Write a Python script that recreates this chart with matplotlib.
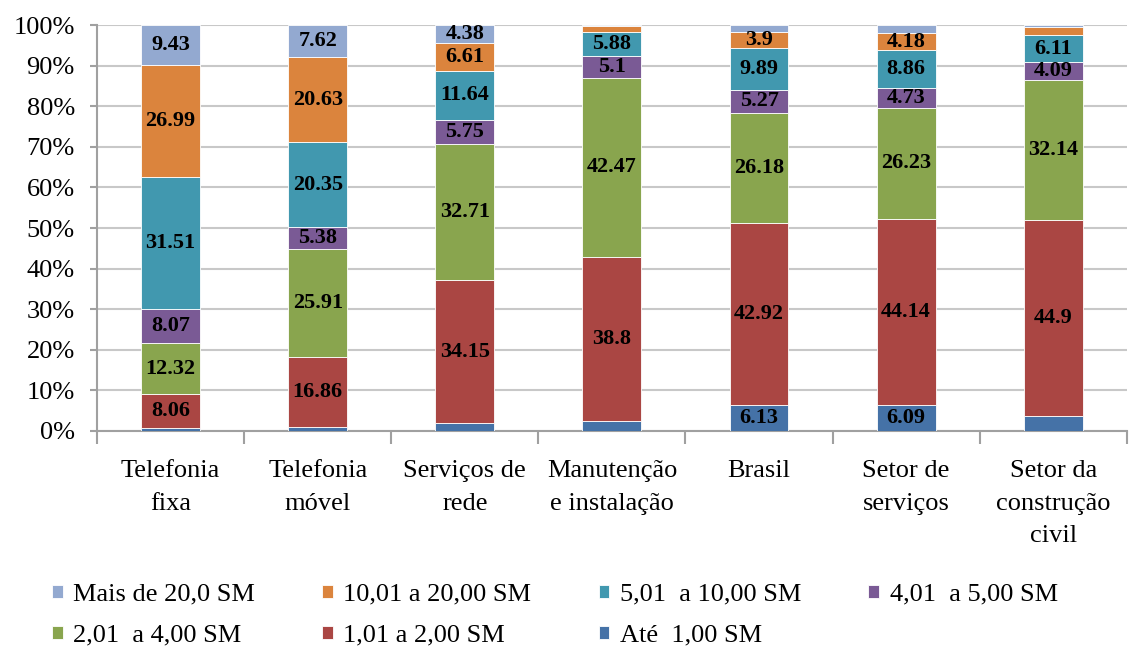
import numpy as np
import matplotlib
matplotlib.use("Agg")
from matplotlib import pyplot as plt

plt.rcParams['font.family'] = ['Liberation Serif', 'DejaVu Serif']

# categories on the x axis
categories = ['Telefonia\nfixa', 'Telefonia\nmóvel', 'Serviços de\nrede',
              'Manutenção\ne instalação', 'Brasil', 'Setor de\nserviços',
              'Setor da\nconstrução\ncivil']

# series, bottom to top (small ones estimated)
ate_1 = [0.66, 1.0, 1.9, 2.4, 6.13, 6.09, 3.4]
de_1_a_2 = [8.06, 16.86, 34.15, 38.8, 42.92, 44.14, 44.9]
de_2_a_4 = [12.32, 25.91, 32.71, 42.47, 26.18, 26.23, 32.14]
de_4_a_5 = [8.07, 5.38, 5.75, 5.1, 5.27, 4.73, 4.09]
de_5_a_10 = [31.51, 20.35, 11.64, 5.88, 9.89, 8.86, 6.11]
de_10_a_20 = [26.99, 20.63, 6.61, 1.2, 3.9, 4.18, 1.8]
mais_20 = [9.43, 7.62, 4.38, 0.3, 1.6, 1.8, 0.5]

# which segments carry a value label
show_ate_1 = [False, False, False, False, True, True, False]
show_de_10_a_20 = [True, True, True, False, True, True, False]
show_mais_20 = [True, True, True, False, False, False, False]

series_names = ['Até  1,00 SM', '1,01 a 2,00 SM', '2,01  a 4,00 SM', '4,01  a 5,00 SM',
                '5,01  a 10,00 SM', '10,01 a 20,00 SM', 'Mais de 20,0 SM']
series = [ate_1, de_1_a_2, de_2_a_4, de_4_a_5, de_5_a_10, de_10_a_20, mais_20]
all_shown = [True] * 7
shown = [show_ate_1, all_shown, all_shown, all_shown, all_shown, show_de_10_a_20, show_mais_20]
colors = ['#4572A7', '#AA4643', '#89A54E', '#7A5A95', '#4198AF', '#DB843D', '#93A9D0']

data = np.array(series)
pct = data / data.sum(axis=0) * 100  # 100% stacked

fig = plt.figure(figsize=(11.29, 6.46), dpi=100)
ax = fig.add_axes([0.086, 0.333, 0.912, 0.628])

x = np.arange(len(categories))
bottom = np.zeros(len(categories))
handles = []
for i, name in enumerate(series_names):
    bars = ax.bar(x, pct[i], 0.40, bottom=bottom, color=colors[i],
                  edgecolor='white', linewidth=0.6, label=name, zorder=3)
    handles.append(bars)
    for j in range(len(categories)):
        if shown[i][j]:
            ax.text(x[j], bottom[j] + pct[i][j] / 2, f'{series[i][j]:g}',
                    ha='center', va='center', fontsize=16, fontweight='bold',
                    color='black', zorder=4)
    bottom += pct[i]

ax.set_xlim(-0.5, len(categories) - 0.5)
ax.set_ylim(0, 100)
ax.set_yticks(np.arange(0, 101, 10))
ax.set_yticklabels([f'{v}%' for v in range(0, 101, 10)], fontsize=19)
ax.yaxis.grid(True, color='#C8C8C8', linewidth=1.5, zorder=0)

ax.set_xticks(x)
ax.set_xticklabels(categories, fontsize=19, linespacing=1.62)
ax.set_xticks(np.arange(-0.5, len(categories), 1), minor=True)
ax.tick_params(axis='x', which='major', length=0, pad=21)
ax.tick_params(axis='x', which='minor', length=9, width=1.5, color='#A0A0A0')
ax.tick_params(axis='y', length=5, width=1.5, color='#A0A0A0', pad=11)

for s in ['top', 'right']:
    ax.spines[s].set_visible(False)
for s in ['left', 'bottom']:
    ax.spines[s].set_color('#A0A0A0')
    ax.spines[s].set_linewidth(1.5)

# legend laid out row by row (matplotlib fills columns first)
order = [6, 2, 5, 1, 4, 0, 3]
fig.legend([handles[k] for k in order], [series_names[k] for k in order],
           ncol=4, loc='lower left', bbox_to_anchor=(0.025, -0.038), frameon=False,
           fontsize=19, handlelength=0.4, handleheight=0.4, handletextpad=0.4,
           columnspacing=2.55, labelspacing=0.72)

fig.savefig('out.png', dpi=100)
